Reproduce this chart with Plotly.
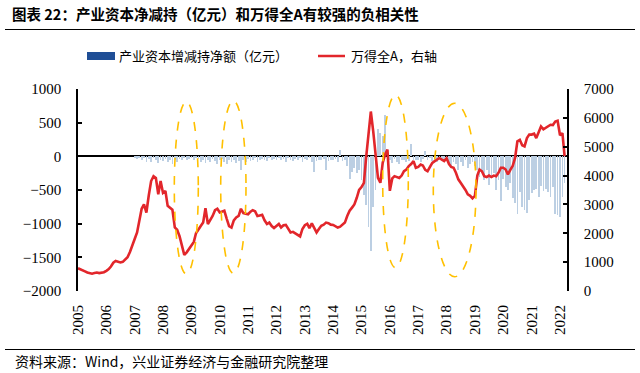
import pandas as pd
import plotly.graph_objects as go

# ---------------- data ----------------
months = pd.date_range("2005-01-01", periods=207, freq="MS")

# Wind All A index (right axis), monthly 2005-01 .. 2022-03
wind_all_a = [
    790, 760, 720, 680, 640, 610, 600, 620, 640, 620, 630, 650,          # 2005
    700, 760, 850, 980, 1040, 1000, 990, 1010, 1080, 1170, 1350, 1600,   # 2006
    1800, 2030, 2400, 2850, 3000, 2720, 3300, 3810, 3980, 3920, 3350, 3810,  # 2007
    3400, 3470, 2950, 2870, 2820, 2200, 2120, 1900, 1600, 1250, 1340, 1450,  # 2008
    1580, 1700, 2000, 2150, 2250, 2370, 2870, 2320, 2450, 2600, 2800, 2850,  # 2009
    2720, 2750, 2780, 2500, 2250, 2200, 2450, 2550, 2600, 2850, 2700, 2680,  # 2010
    2660, 2750, 2800, 2760, 2600, 2620, 2640, 2450, 2320, 2370, 2250, 2180,  # 2011
    2250, 2320, 2200, 2280, 2290, 2150, 2030, 2050, 2000, 1950, 1890, 2150,  # 2012
    2280, 2330, 2180, 2340, 2200, 2030, 2150, 2260, 2300, 2370, 2350, 2300,  # 2013
    2290, 2250, 2200, 2230, 2300, 2370, 2600, 2780, 2890, 3000, 3230, 3500,  # 2014
    3600, 3750, 4610, 5530, 6220, 5530, 4610, 3920, 3750, 4440, 4730, 4900,  # 2015
    3470, 3900, 3980, 3950, 3920, 4000, 4150, 4210, 4330, 4400, 4500, 4270,  # 2016
    4300, 4380, 4350, 4200, 4150, 4300, 4440, 4500, 4550, 4610, 4550, 4500,  # 2017
    4600, 4400, 4300, 4270, 4100, 3870, 3750, 3640, 3500, 3350, 3300, 3210,  # 2018
    3300, 4000, 4210, 4150, 3980, 3950, 4000, 3950, 4000, 3980, 4100, 4270,  # 2019
    4270, 4210, 4040, 4200, 4330, 4610, 5190, 5240, 5050, 5010, 5300, 5420,  # 2020
    5420, 5450, 5300, 5500, 5700, 5600, 5650, 5700, 5760, 5750, 5870, 5900,  # 2021
    5400, 5470, 4670,                                                        # 2022
]

# Net increase/decrease of holdings by industrial capital (100m yuan, left axis)
net_change = [
    0, 0, 0, 0, 0, 0, 0, 0, 0, 0, 0, 0,                                  # 2005
    0, 0, 0, 0, 0, 0, 0, 0, 0, 0, 0, 0,                                  # 2006
    -20, -40, -30, -60, -25, -80, -45, -90, -30, -60, -100, -50,         # 2007
    -70, -40, -90, -60, -110, -50, -80, -40, -60, -30, -50, -40,         # 2008
    -30, -60, -20, -40, -80, -50, -100, -60, -80, -40, -70, -110,        # 2009
    -60, -40, -80, -120, -50, -90, -60, -100, -70, -210, -50, -80,       # 2010
    -40, -70, -50, -30, -80, -60, -40, -50, -70, -30, -60, -40,          # 2011
    -50, -30, -60, -40, -90, -30, -50, -70, -40, -60, -30, -80,          # 2012
    -40, -60, -30, -80, -240, -70, -60, -50, -40, -200, -70, -50,        # 2013
    -60, -40, -90, 90, -70, -60, -150, -330, -240, -180, -250, -200,     # 2014
    -350, -570, -720, -1050, -1410, -750, -500, 410, 350, 300, 610, 100, # 2015
    -60, -100, -40, -80, -120, -60, -50, -90, -70, 190, -60, -50,        # 2016
    -50, -80, -40, 80, -60, -30, -70, -50, -90, -40, -60, -80,           # 2017
    -60, -100, -150, -80, -120, -200, -90, -140, -60, -170, -110, -80,   # 2018
    -150, -200, -300, -250, -350, -200, -430, -300, -250, -500, -350, -670,  # 2019
    -330, -450, -500, -400, -620, -700, -850, -530, -745, -800, -845, -650,  # 2020
    -550, -500, -480, -600, -440, -520, -480, -530, -600, -450, -850, -870,  # 2021
    -900, -600, -400,                                                    # 2022
]

title_text = "图表 22：产业资本净减持（亿元）和万得全A有较强的负相关性"
legend_bar = "产业资本增减持净额（亿元）"
legend_line = "万得全A，右轴"
source_text = "资料来源：Wind，兴业证券经济与金融研究院整理"

# ---------------- figure ----------------
CJK = "Noto Sans CJK SC"
SERIF = "Liberation Serif"

fig = go.Figure()
fig.add_trace(go.Bar(
    x=months, y=net_change, yaxis="y",
    marker=dict(color="#BCCFE3", line=dict(width=0)),
    width=86400000 * 10, showlegend=False, hoverinfo="skip",
))
fig.add_trace(go.Scatter(
    x=months, y=wind_all_a, yaxis="y2", mode="lines",
    line=dict(color="#E2262B", width=2.6), showlegend=False, hoverinfo="skip",
))
# empty helper subplots whose axis lines serve as the two horizontal rules
fig.add_trace(go.Scatter(x=[None], y=[None], xaxis="x3", yaxis="y3",
                         showlegend=False, hoverinfo="skip"))
fig.add_trace(go.Scatter(x=[None], y=[None], xaxis="x4", yaxis="y4",
                         showlegend=False, hoverinfo="skip"))

W, H = 640, 373
PL, PR, PT, PB = 78, 567, 89, 291   # plot-area edges in pixels

def fx(x):
    return x / W

def fy(y):
    return 1 - y / H

shapes = []
# legend swatches
shapes.append(dict(type="rect", xref="paper", yref="paper", x0=fx(87), x1=fx(115),
                   y0=fy(60), y1=fy(52), fillcolor="#1F4E96", line=dict(width=0)))
shapes.append(dict(type="line", xref="paper", yref="paper", x0=fx(318), x1=fx(345),
                   y0=fy(56), y1=fy(56), line=dict(color="#E2262B", width=2.5)))
# dashed ellipses
for (x0, x1, y0, y1) in [(174.3, 198.3, 101.7, 274), (220.7, 246, 100.7, 273.3),
                         (382.7, 408.3, 95, 267.7), (433.3, 476, 103.3, 276.7)]:
    shapes.append(dict(type="circle", xref="paper", yref="paper",
                       x0=fx(x0), x1=fx(x1), y0=fy(y1), y1=fy(y0),
                       line=dict(color="#FFC000", width=1.6, dash="dash")))

annotations = [
    dict(text=legend_bar, xref="paper", yref="paper", x=fx(117), y=fy(56),
         xanchor="left", yanchor="middle", showarrow=False,
         font=dict(family=CJK, size=13, color="black")),
    dict(text=legend_line, xref="paper", yref="paper", x=fx(349), y=fy(56),
         xanchor="left", yanchor="middle", showarrow=False,
         font=dict(family=CJK, size=13, color="black")),
    dict(text=source_text, xref="paper", yref="paper", x=fx(13), y=fy(361),
         xanchor="left", yanchor="middle", showarrow=False,
         font=dict(family=CJK, size=14, color="black")),
]

rule_x = dict(domain=[fx(5), fx(635)], range=[0, 1], showline=True,
              linecolor="black", linewidth=1.2, showgrid=False, zeroline=False,
              showticklabels=False, ticks="", fixedrange=True, automargin=False)
rule_y = dict(range=[0, 1], showline=False, showgrid=False, zeroline=False,
              showticklabels=False, ticks="", fixedrange=True, automargin=False)

fig.update_layout(
    width=W, height=H,
    margin=dict(l=0, r=0, t=0, b=0, pad=0, autoexpand=False),
    paper_bgcolor="white", plot_bgcolor="rgba(0,0,0,0)",
    title=dict(text=title_text, xref="container", yref="container",
               x=12 / W, y=1 - 15 / H, xanchor="left", yanchor="middle",
               automargin=False,
               font=dict(family=CJK, size=14.5, color="black", weight="bold")),
    bargap=0,
    shapes=shapes,
    annotations=annotations,
    xaxis=dict(
        domain=[fx(PL), fx(PR)],
        type="date", range=["2005-01-01", "2022-04-01"], automargin=False,
        dtick="M12", tick0="2005-01-01", tickformat="%Y", tickangle=-90,
        showgrid=False, showline=False, zeroline=False, ticks="",
        ticklabelstandoff=10,
        tickfont=dict(family=SERIF, size=15, color="black"),
    ),
    yaxis=dict(
        domain=[fy(PB), fy(PT)],
        range=[-2000, 1000], dtick=500, showgrid=False, automargin=False,
        showline=True, linecolor="black", linewidth=1.5,
        ticks="inside", ticklen=4, tickwidth=1.5, tickcolor="black",
        zeroline=True, zerolinecolor="black", zerolinewidth=1.5,
        ticklabelstandoff=12,
        tickfont=dict(family=SERIF, size=15, color="black"),
    ),
    yaxis2=dict(
        range=[0, 7000], dtick=1000, overlaying="y", side="right",
        showgrid=False, zeroline=False, automargin=False,
        showline=True, linecolor="black", linewidth=1.5,
        ticks="inside", ticklen=4, tickwidth=1.5, tickcolor="black",
        ticklabelstandoff=12,
        tickfont=dict(family=SERIF, size=15, color="black"),
    ),
    xaxis3=dict(anchor="y3", **rule_x),
    yaxis3=dict(anchor="x3", domain=[fy(28.5), fy(26.5)], **rule_y),
    xaxis4=dict(anchor="y4", **rule_x),
    yaxis4=dict(anchor="x4", domain=[fy(348.5), fy(346.5)], **rule_y),
)

fig.write_html(
    "out.html",
    config={"displayModeBar": False},
    post_script="document.body.style.margin='0';document.body.style.overflow='hidden';",
)
